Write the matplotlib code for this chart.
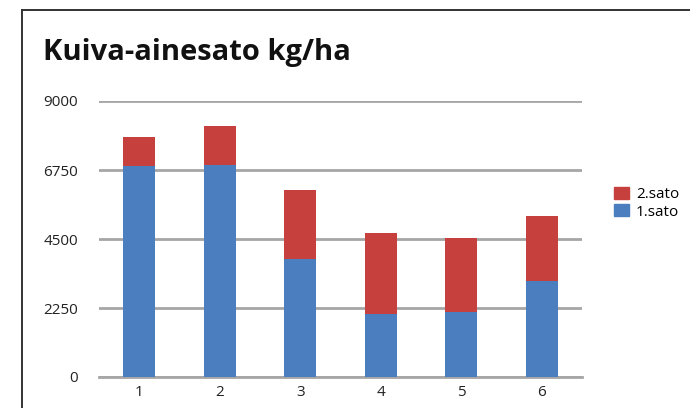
"""
Kuiva-ainesato kg/ha: pinottu pylväskaavio, 1. ja 2. sato.
"""

import matplotlib
matplotlib.use("Agg")
import matplotlib.pyplot as plt
from matplotlib.lines import Line2D
from matplotlib.patches import Patch

# Data (kg/ha)
kasittelyt = ["1", "2", "3", "4", "5", "6"]
sato_1 = [6870, 6900, 3850, 2040, 2130, 3120]
sato_2 = [960, 1280, 2260, 2660, 2390, 2120]
y_ticks = [0, 2250, 4500, 6750, 9000]

BLUE = "#4A7EBF"
RED = "#C6403E"
GRID = "#A6A6A6"
FONT = "Open Sans"

W, H = 690, 408
fig = plt.figure(figsize=(W / 100, H / 100), dpi=100)
fig.patch.set_facecolor("white")


def px(x, y):
    """Figure-fraction coords from pixel position (origin top left)."""
    return x / W, 1 - y / H


# plot area: x 99..582 px, y 101..377 px
ax = fig.add_axes([99 / W, 1 - 377 / H, (582 - 99) / W, (377 - 101) / H])

x = range(1, len(kasittelyt) + 1)
ax.bar(x, sato_1, width=0.4, color=BLUE, zorder=3)
ax.bar(x, sato_2, width=0.4, bottom=sato_1, color=RED, zorder=3)

ax.set_xlim(0.5, 6.5)
ax.set_ylim(0, 9000)
ax.set_yticks(y_ticks)
ax.set_yticklabels([str(t) for t in y_ticks], fontsize=11, family=FONT,
                   color="#222222")
ax.set_xticks(list(x))
ax.set_xticklabels(kasittelyt, fontsize=11, family=FONT, color="#222222")
ax.tick_params(axis="y", length=0, pad=15)
ax.tick_params(axis="x", length=0, pad=6)

ax.grid(axis="y", color=GRID, linewidth=2, zorder=0)
ax.grid(axis="x", visible=False)
for side in ["top", "right", "left"]:
    ax.spines[side].set_visible(False)
ax.spines["bottom"].set_color(GRID)
ax.spines["bottom"].set_linewidth(2)

# Otsikko
fig.text(*px(43, 60), "Kuiva-ainesato kg/ha", fontsize=21, fontweight="bold",
         family=FONT, color="#111111", va="baseline", ha="left")

# Selite
handles = [Patch(color=RED, label="2.sato"), Patch(color=BLUE, label="1.sato")]
fig.legend(handles=handles, loc="upper left", bbox_to_anchor=px(614, 187),
           frameon=False, prop={"family": FONT, "size": 11},
           handlelength=1.0, handleheight=0.8, handletextpad=0.45,
           labelspacing=0.15, borderpad=0, borderaxespad=0)

# Kehys (vasen ja yläreuna)
fig.add_artist(Line2D([px(22, 0)[0]] * 2, [px(0, 10)[1], 0], color="#333333",
                      linewidth=1.4, transform=fig.transFigure))
fig.add_artist(Line2D([px(22, 0)[0], 1], [px(0, 10)[1]] * 2, color="#333333",
                      linewidth=1.4, transform=fig.transFigure))

fig.savefig("out.png", dpi=100)
